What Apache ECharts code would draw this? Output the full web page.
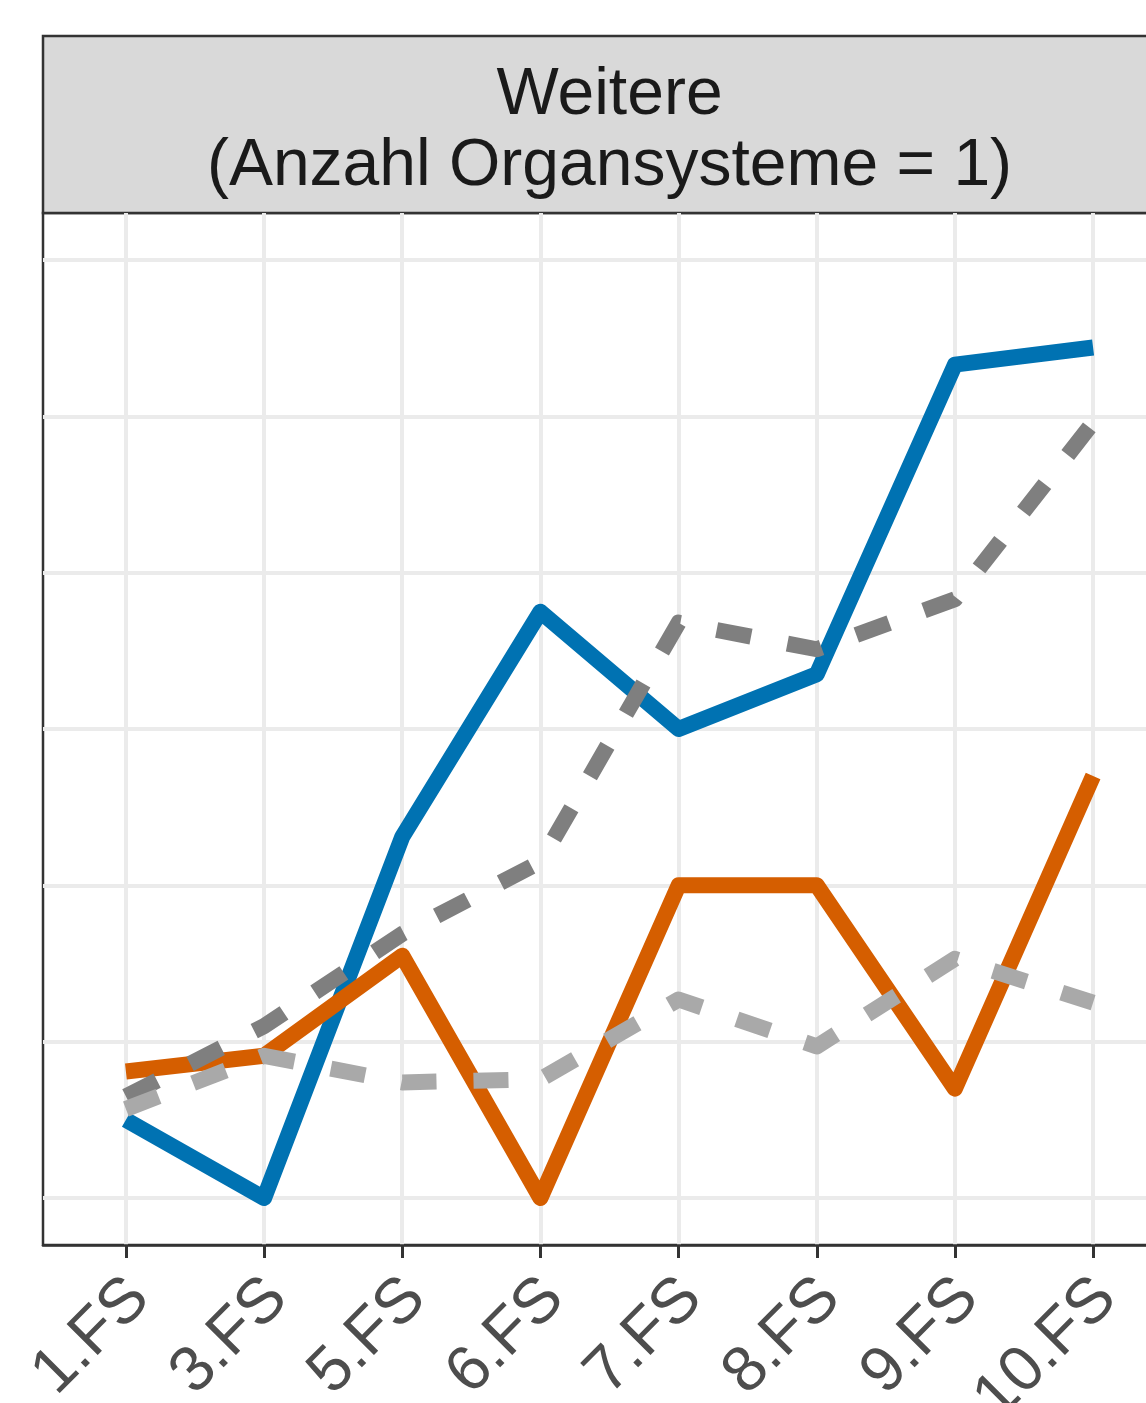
<!DOCTYPE html>
<html>
<head>
<meta charset="utf-8">
<script src="https://cdn.jsdelivr.net/npm/echarts@6/dist/echarts.min.js"></script>
<style>
  html, body { margin: 0; padding: 0; overflow: hidden; background: #fff; }
  #chart { width: 1200px; height: 1403px; }
</style>
</head>
<body>
<div id="chart"></div>
<script>
// Werte
const categories = ['1.FS', '3.FS', '5.FS', '6.FS', '7.FS', '8.FS', '9.FS', '10.FS']
const blueValues = [0.50, 0.00, 2.31, 3.75, 3.00, 3.35, 5.33, 5.44]
const orangeValues = [0.81, 0.91, 1.55, 0.00, 2.00, 2.00, 0.70, 2.70]
const darkGreyValues = [0.65, 1.10, 1.69, 2.15, 3.68, 3.51, 3.83, 4.96]
const lightGreyValues = [0.57, 0.91, 0.74, 0.76, 1.27, 0.97, 1.53, 1.25]
const yTicks = [0, 1, 2, 3, 4, 5, 6]
const stripTitle = 'Weitere\n(Anzahl Organsysteme = 1)'

const xTicks = categories.map((c, i) => i)
const font = 'Liberation Sans, Arial, sans-serif'

function lineSeries (name, values, color, dashed) {
  return {
    name: name,
    type: 'line',
    data: values.map((v, i) => [i, v]),
    symbol: 'none',
    silent: true,
    lineStyle: {
      color: color,
      width: 16,
      type: dashed ? [35, 37] : 'solid',
      cap: 'butt',
      join: 'round'
    }
  }
}

const chart = echarts.init(document.getElementById('chart'))
chart.setOption({
  animation: false,
  backgroundColor: '#fff',
  grid: {
    show: true,
    left: 43,
    top: 213,
    right: 24,
    bottom: 158,
    borderColor: '#333',
    borderWidth: 2.5,
    outerBoundsMode: 'none'
  },
  // Streifen oben (wie facet strip)
  graphic: [{
    type: 'group',
    children: [{
      type: 'rect',
      shape: { x: 43, y: 36, width: 1133, height: 177 },
      style: { fill: '#D9D9D9', stroke: '#333', lineWidth: 2.5 }
    }, {
      type: 'text',
      x: 609.5,
      y: 131,
      style: {
        text: stripTitle,
        font: '66px ' + font,
        lineHeight: 71,
        fill: '#1A1A1A',
        align: 'center',
        verticalAlign: 'middle'
      }
    }]
  }],
  xAxis: {
    type: 'value',
    min: -0.6,
    max: 7.6,
    axisLine: { show: true, onZero: false, lineStyle: { color: '#333', width: 2.5 } },
    axisTick: { show: true, customValues: xTicks, length: 13, lineStyle: { color: '#333', width: 3 } },
    axisLabel: {
      customValues: xTicks,
      formatter: v => categories[v],
      rotate: 45,
      margin: 57,
      padding: [0, -19, 0, 0],
      fontFamily: font,
      fontSize: 64,
      color: '#4D4D4D'
    },
    splitLine: { show: true, lineStyle: { color: '#EBEBEB', width: 4 } }
  },
  yAxis: {
    type: 'value',
    min: -0.3,
    max: 6.3,
    axisLine: { show: false },
    axisTick: { show: false, customValues: yTicks },
    axisLabel: { show: false, customValues: yTicks },
    splitLine: { show: true, lineStyle: { color: '#EBEBEB', width: 4 } }
  },
  series: [
    lineSeries('blau', blueValues, '#0072B2', false),
    lineSeries('orange', orangeValues, '#D55E00', false),
    lineSeries('grau dunkel', darkGreyValues, '#7F7F7F', true),
    lineSeries('grau hell', lightGreyValues, '#A9A9A9', true)
  ]
})
</script>
</body>
</html>
